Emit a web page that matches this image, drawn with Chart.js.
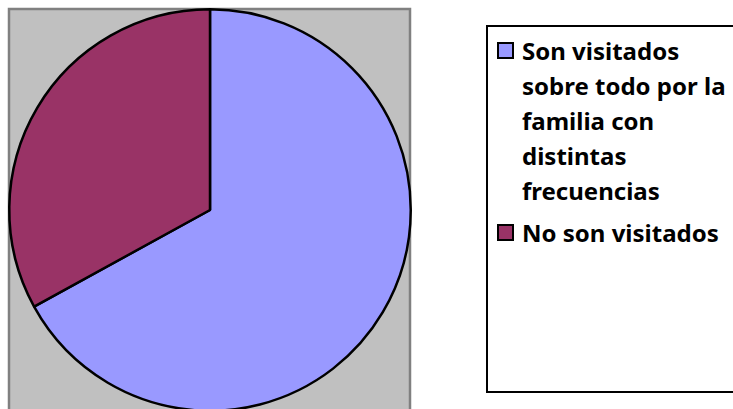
<!DOCTYPE html>
<html>
<head>
<meta charset="utf-8">
<script src="https://cdn.jsdelivr.net/npm/chart.js@4.4.0/dist/chart.umd.min.js"></script>
<style>
  html, body { margin: 0; padding: 0; background: #ffffff; overflow: hidden; width: 733px; height: 409px; }
  #wrap { position: relative; width: 733px; height: 409px; }
  #pie-holder { position: absolute; left: 0; top: 0; width: 420px; height: 420px; }
  #legend {
    position: absolute; left: 486px; top: 25px; width: 270px; height: 368px;
    border: 2px solid #000; box-sizing: border-box; background: #fff; padding-top: 6px;
    font-family: 'Noto Sans', sans-serif; font-weight: 700; font-size: 24px; color: #000;
    white-space: nowrap;
  }
  .item { position: relative; padding-left: 34px; line-height: 35px; }
  .item + .item { margin-top: 7px; }
  .swatch { position: absolute; left: 9px; top: 9px; width: 13px; height: 13px; border: 2px solid #000; }
</style>
</head>
<body>
<div id="wrap">
  <div id="pie-holder"><canvas id="pie"></canvas></div>
  <div id="legend"></div>
</div>
<script>
// --- data ---
const labels = [
  ['Son visitados', 'sobre todo por la', 'familia con', 'distintas', 'frecuencias'],
  ['No son visitados']
];
const values = [67, 33];
const colors = ['#9999ff', '#993366'];

// gray plot area behind the pie
const plotAreaBg = {
  id: 'plotAreaBg',
  beforeDraw(chart) {
    const ctx = chart.ctx;
    ctx.save();
    ctx.fillStyle = '#c0c0c0';
    ctx.fillRect(8, 8, 403, 412);
    ctx.strokeStyle = '#808080';
    ctx.lineWidth = 2.5;
    ctx.strokeRect(9, 9, 401, 412);
    ctx.restore();
  }
};

new Chart(document.getElementById('pie').getContext('2d'), {
  type: 'pie',
  data: {
    labels: labels.map(l => l.join(' ')),
    datasets: [{
      data: values,
      backgroundColor: colors,
      borderColor: '#000000',
      borderWidth: 2.5
    }]
  },
  options: {
    responsive: true,
    maintainAspectRatio: false,
    animation: false,
    layout: { padding: 8 },
    plugins: {
      legend: { display: false },
      tooltip: { enabled: true }
    }
  },
  plugins: [plotAreaBg]
});

// legend as html
const legendEl = document.getElementById('legend');
labels.forEach((lines, i) => {
  const item = document.createElement('div');
  item.className = 'item';
  const sw = document.createElement('span');
  sw.className = 'swatch';
  sw.style.background = colors[i];
  item.appendChild(sw);
  const txt = document.createElement('span');
  txt.innerHTML = lines.join('<br>');
  item.appendChild(txt);
  legendEl.appendChild(item);
});
</script>
</body>
</html>
